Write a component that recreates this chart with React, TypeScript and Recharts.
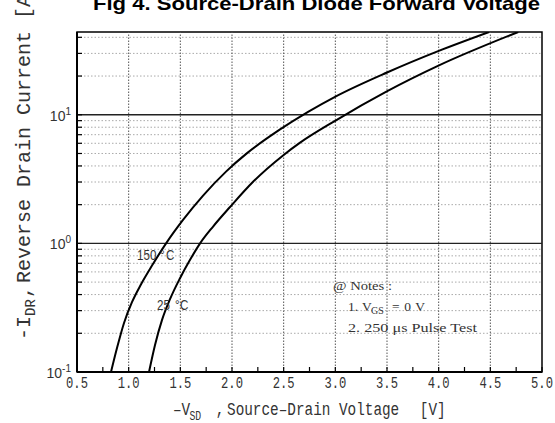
import { LineChart, Line, XAxis, YAxis, ReferenceLine, ReferenceArea } from 'recharts';

// 150 °C curve
const vsd150 = [0.829, 0.887, 0.955, 1.032, 1.12, 1.226, 1.362, 1.526, 1.72, 1.942, 2.146, 2.465, 2.736, 2.997, 3.5, 3.995, 4.488];
const idr150 = [0.1, 0.1535, 0.2406, 0.3488, 0.481, 0.672, 1.0, 1.521, 2.351, 3.614, 5.03, 7.69, 10.53, 13.79, 21.31, 31.24, 44];

// 25 °C curve
const vsd25 = [1.197, 1.255, 1.323, 1.4, 1.497, 1.594, 1.691, 1.817, 1.981, 2.204, 2.494, 2.659, 2.998, 3.498, 3.998, 4.77];
const idr25 = [0.1, 0.162, 0.254, 0.368, 0.536, 0.745, 1.0, 1.352, 1.919, 3.013, 4.83, 6.07, 8.98, 15.2, 24.1, 44];

const xTicks = [0.5, 0.75, 1, 1.25, 1.5, 1.75, 2, 2.25, 2.5, 2.75, 3, 3.25, 3.5, 3.75, 4, 4.25, 4.5, 4.75, 5];
const xGrid = [1, 1.5, 2, 2.5, 3, 3.5, 4, 4.5];
const yTicks = [0.1, 0.2, 0.3, 0.4, 0.5, 0.6, 0.7, 0.8, 0.9, 1, 2, 3, 4, 5, 6, 7, 8, 9, 10, 20, 30, 40];
const yDotted = [0.2, 0.3, 0.4, 0.5, 0.6, 0.7, 0.8, 0.9, 2, 3, 4, 5, 6, 7, 8, 9, 20, 30, 40];
const ySolid = [1, 10];

const data150 = vsd150.map((v, i) => ({ v, i: idr150[i] }));
const data25 = vsd25.map((v, i) => ({ v, i: idr25[i] }));

const mono = '"Liberation Mono", "DejaVu Sans Mono", monospace';
const sans = '"Liberation Sans", Arial, sans-serif';
const serif = '"Liberation Serif", "Times New Roman", serif';

function XTick(props: any) {
  const { x, y, payload } = props;
  const v = payload.value;
  const major = Math.abs(v * 2 - Math.round(v * 2)) < 1e-6;
  return (
    <g>
      <line x1={x} x2={x} y1={y} y2={y - 5} stroke="#000" strokeWidth={1.2} />
      {major && (
        <text
          transform={`translate(${x},${y + 16}) scale(0.76,1)`}
          textAnchor="middle"
          fontFamily={mono}
          fontSize={16}
          fill="#333"
        >
          {v.toFixed(1)}
        </text>
      )}
    </g>
  );
}

function YTick(props: any) {
  const { x, y, payload } = props;
  const v = payload.value;
  const lg = Math.log10(v);
  const exp = Math.round(lg);
  const major = Math.abs(lg - exp) < 1e-6;
  return (
    <g>
      <line x1={x} x2={x + 5} y1={y} y2={y} stroke="#000" strokeWidth={1.2} />
      {major && (
        <text x={x - 6} y={y + 6} textAnchor="end" fontFamily={sans} fontSize={14} fill="#333">
          10
          <tspan dy={-6} fontSize={10}>
            {exp}
          </tspan>
        </text>
      )}
    </g>
  );
}

export default function App() {
  return (
    <div style={{ position: 'absolute', left: 0, top: 0, width: 555, height: 423, background: '#fff' }}>
      <LineChart width={555} height={423} margin={{ top: 32, right: 13, bottom: 0, left: 0 }}>
        <XAxis
          type="number"
          dataKey="v"
          domain={[0.5, 5]}
          allowDataOverflow
          ticks={xTicks}
          interval={0}
          tickLine={false}
          tickSize={0}
          tickMargin={0}
          tick={(p: any) => <XTick {...p} />}
          axisLine={{ stroke: '#000', strokeWidth: 2 }}
          height={51}
        />
        <YAxis
          type="number"
          scale="log"
          domain={[0.1, 44]}
          allowDataOverflow
          ticks={yTicks}
          interval={0}
          tickLine={false}
          tickSize={0}
          tickMargin={0}
          tick={(p: any) => <YTick {...p} />}
          axisLine={{ stroke: '#000', strokeWidth: 2 }}
          width={77}
        />
        {yDotted.map((y) => (
          <ReferenceLine key={'h' + y} y={y} stroke="#aaa" strokeDasharray="1.5 2" strokeWidth={1} />
        ))}
        {xGrid.map((x) => (
          <ReferenceLine key={'v' + x} x={x} stroke="#555" strokeDasharray="1.5 1.5" strokeWidth={1} />
        ))}
        {ySolid.map((y) => (
          <ReferenceLine key={'s' + y} y={y} stroke="#222" strokeWidth={1.3} />
        ))}
        <ReferenceArea x1={0.5} x2={5} y1={0.1} y2={44} fill="none" stroke="#000" strokeWidth={1.5} />
        <Line data={data150} dataKey="i" type="monotone" stroke="#000" strokeWidth={2} dot={false} isAnimationActive={false} />
        <Line data={data25} dataKey="i" type="monotone" stroke="#000" strokeWidth={2} dot={false} isAnimationActive={false} />
      </LineChart>
      <svg width={555} height={423} style={{ position: 'absolute', left: 0, top: 0, pointerEvents: 'none' }}>
        <text
          x={93}
          y={10}
          fontFamily={sans}
          fontWeight="bold"
          fontSize={19}
          textLength={447}
          lengthAdjust="spacingAndGlyphs"
          fill="#000"
        >
          Fig 4.  Source-Drain Diode Forward Voltage
        </text>

        <g transform="translate(30,0) rotate(-90)" fontFamily={mono} fontSize={20} fill="#333">
          <text x={-340} y={0}>-I</text>
          <text x={-316} y={5} fontSize={14}>DR</text>
          <text x={-298} y={0}>,</text>
          <text x={-283} y={0}>Reverse Drain Current [A]</text>
        </g>

        <g transform="translate(173,415) scale(0.82,1)" fontFamily={mono} fontSize={17.5} fill="#333">
          <text x={0} y={0}>–V</text>
          <text x={20} y={5} fontSize={12}>SD</text>
          <text x={52} y={0}>,</text>
          <text x={65.9} y={0}>Source–Drain Voltage</text>
          <text x={301} y={0}>[V]</text>
        </g>

        <g fontFamily={sans} fontSize={14} fill="#333">
          <text transform="translate(137,260) scale(0.83,1)">150</text>
          <text transform="translate(160,260) scale(0.83,1)">°</text>
          <text transform="translate(166,260) scale(0.83,1)">C</text>
          <text transform="translate(157,310) scale(0.83,1)">25</text>
          <text transform="translate(175,310) scale(0.83,1)">°</text>
          <text transform="translate(180,310) scale(0.83,1)">C</text>
        </g>

        <g fontFamily={serif} fontSize={13.5} fill="#333">
          <text x={333} y={290} textLength={59} lengthAdjust="spacingAndGlyphs">@ Notes :</text>
          <text x={348} y={311}>1.</text>
          <text x={362} y={311}>V</text>
          <text x={371} y={314} fontSize={10}>GS</text>
          <text x={392} y={311} textLength={33} lengthAdjust="spacing">= 0 V</text>
          <text x={348} y={332} textLength={129} lengthAdjust="spacingAndGlyphs">2. 250 μs Pulse Test</text>
        </g>
      </svg>
    </div>
  );
}
